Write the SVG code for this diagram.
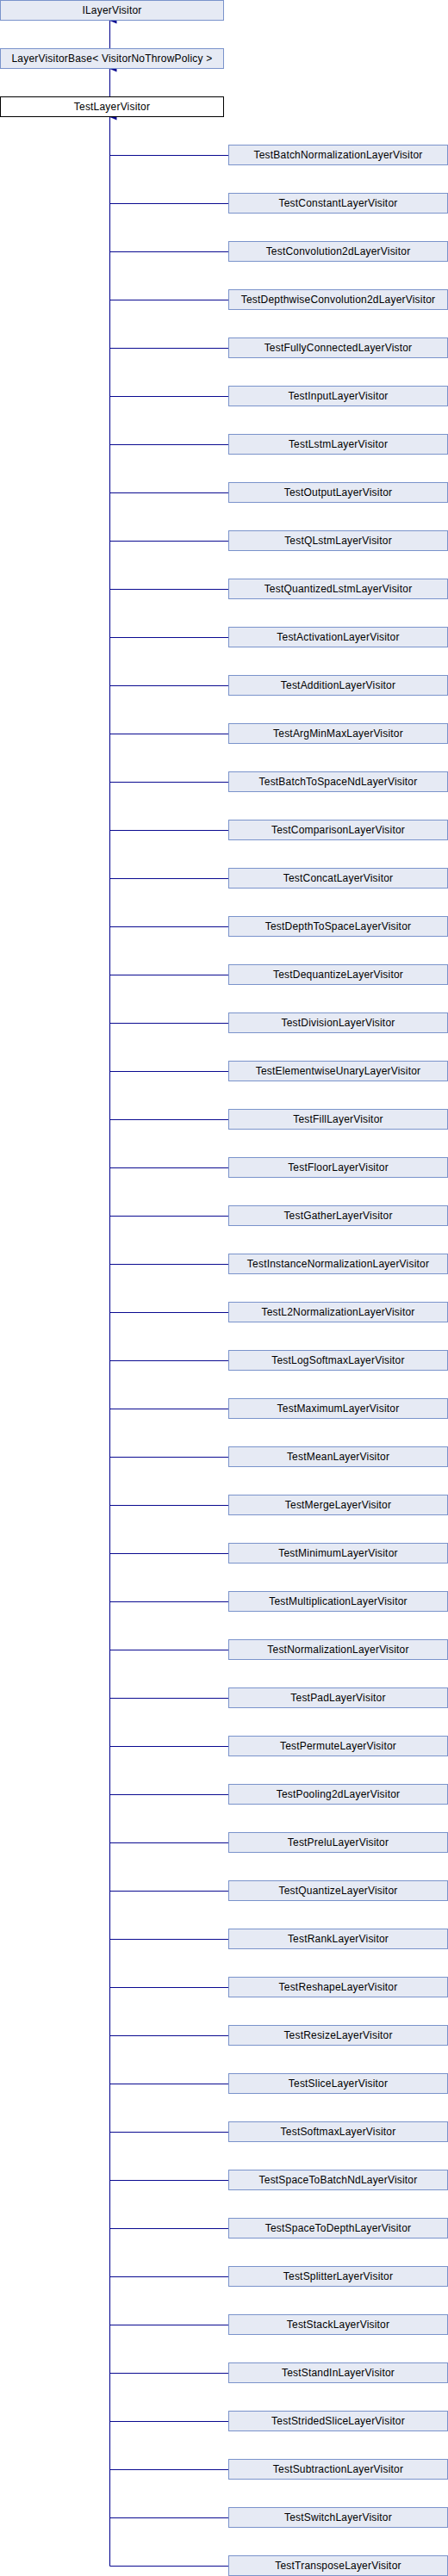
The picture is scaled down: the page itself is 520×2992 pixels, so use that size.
<svg xmlns="http://www.w3.org/2000/svg" width="520" height="2992" viewBox="0 0 520 2992">
<style>
.n rect{fill:#E6EAF4;stroke:#7A93CB;stroke-width:1}
.cur rect{fill:#FFFFFF;stroke:#000000;stroke-width:1}
text{font-family:"Liberation Sans",Arial,sans-serif;font-size:12px;fill:#000;text-anchor:middle;letter-spacing:0.2px}
.e{stroke:#0A0A90;stroke-width:1.1;fill:none}
</style>
<defs>
<marker id="ah" markerWidth="7" markerHeight="8" refX="3.5" refY="0" orient="auto-start-reverse" markerUnits="userSpaceOnUse" viewBox="0 0 7 8"><path d="M0,8 L3.5,0 L7,8 Z" fill="#0A0A90"/></marker>
</defs>
<rect width="520" height="2992" fill="#FFFFFF"/>
<g id="connectors">
<path class="e" d="M127.5,56.5 V24" marker-end="url(#ah)"/>
<path class="e" d="M127.5,112.5 V80" marker-end="url(#ah)"/>
<path class="e" d="M127.5,2980.5 V136" marker-end="url(#ah)"/>
<path class="e" d="M127.5,180.5H265M127.5,236.5H265M127.5,292.5H265M127.5,348.5H265M127.5,404.5H265M127.5,460.5H265M127.5,516.5H265M127.5,572.5H265M127.5,628.5H265M127.5,684.5H265M127.5,740.5H265M127.5,796.5H265M127.5,852.5H265M127.5,908.5H265M127.5,964.5H265M127.5,1020.5H265M127.5,1076.5H265M127.5,1132.5H265M127.5,1188.5H265M127.5,1244.5H265M127.5,1300.5H265M127.5,1356.5H265M127.5,1412.5H265M127.5,1468.5H265M127.5,1524.5H265M127.5,1580.5H265M127.5,1636.5H265M127.5,1692.5H265M127.5,1748.5H265M127.5,1804.5H265M127.5,1860.5H265M127.5,1916.5H265M127.5,1972.5H265M127.5,2028.5H265M127.5,2084.5H265M127.5,2140.5H265M127.5,2196.5H265M127.5,2252.5H265M127.5,2308.5H265M127.5,2364.5H265M127.5,2420.5H265M127.5,2476.5H265M127.5,2532.5H265M127.5,2588.5H265M127.5,2644.5H265M127.5,2700.5H265M127.5,2756.5H265M127.5,2812.5H265M127.5,2868.5H265M127.5,2924.5H265M127.5,2980.5H265"/>
</g>
<g id="ILayerVisitor" class="n"><rect x="0.5" y="0.5" width="259" height="23"/><text x="130" y="16">ILayerVisitor</text></g>
<g id="LayerVisitorBase" class="n"><rect x="0.5" y="56.5" width="259" height="23"/><text x="130" y="72">LayerVisitorBase&lt; VisitorNoThrowPolicy &gt;</text></g>
<g id="TestLayerVisitor" class="cur"><rect x="0.5" y="112.5" width="259" height="23"/><text x="130" y="128">TestLayerVisitor</text></g>
<g id="c1" class="n"><rect x="265.5" y="168.5" width="254" height="23"/><text x="392.5" y="184">TestBatchNormalizationLayerVisitor</text></g>
<g id="c2" class="n"><rect x="265.5" y="224.5" width="254" height="23"/><text x="392.5" y="240">TestConstantLayerVisitor</text></g>
<g id="c3" class="n"><rect x="265.5" y="280.5" width="254" height="23"/><text x="392.5" y="296">TestConvolution2dLayerVisitor</text></g>
<g id="c4" class="n"><rect x="265.5" y="336.5" width="254" height="23"/><text x="392.5" y="352">TestDepthwiseConvolution2dLayerVisitor</text></g>
<g id="c5" class="n"><rect x="265.5" y="392.5" width="254" height="23"/><text x="392.5" y="408">TestFullyConnectedLayerVistor</text></g>
<g id="c6" class="n"><rect x="265.5" y="448.5" width="254" height="23"/><text x="392.5" y="464">TestInputLayerVisitor</text></g>
<g id="c7" class="n"><rect x="265.5" y="504.5" width="254" height="23"/><text x="392.5" y="520">TestLstmLayerVisitor</text></g>
<g id="c8" class="n"><rect x="265.5" y="560.5" width="254" height="23"/><text x="392.5" y="576">TestOutputLayerVisitor</text></g>
<g id="c9" class="n"><rect x="265.5" y="616.5" width="254" height="23"/><text x="392.5" y="632">TestQLstmLayerVisitor</text></g>
<g id="c10" class="n"><rect x="265.5" y="672.5" width="254" height="23"/><text x="392.5" y="688">TestQuantizedLstmLayerVisitor</text></g>
<g id="c11" class="n"><rect x="265.5" y="728.5" width="254" height="23"/><text x="392.5" y="744">TestActivationLayerVisitor</text></g>
<g id="c12" class="n"><rect x="265.5" y="784.5" width="254" height="23"/><text x="392.5" y="800">TestAdditionLayerVisitor</text></g>
<g id="c13" class="n"><rect x="265.5" y="840.5" width="254" height="23"/><text x="392.5" y="856">TestArgMinMaxLayerVisitor</text></g>
<g id="c14" class="n"><rect x="265.5" y="896.5" width="254" height="23"/><text x="392.5" y="912">TestBatchToSpaceNdLayerVisitor</text></g>
<g id="c15" class="n"><rect x="265.5" y="952.5" width="254" height="23"/><text x="392.5" y="968">TestComparisonLayerVisitor</text></g>
<g id="c16" class="n"><rect x="265.5" y="1008.5" width="254" height="23"/><text x="392.5" y="1024">TestConcatLayerVisitor</text></g>
<g id="c17" class="n"><rect x="265.5" y="1064.5" width="254" height="23"/><text x="392.5" y="1080">TestDepthToSpaceLayerVisitor</text></g>
<g id="c18" class="n"><rect x="265.5" y="1120.5" width="254" height="23"/><text x="392.5" y="1136">TestDequantizeLayerVisitor</text></g>
<g id="c19" class="n"><rect x="265.5" y="1176.5" width="254" height="23"/><text x="392.5" y="1192">TestDivisionLayerVisitor</text></g>
<g id="c20" class="n"><rect x="265.5" y="1232.5" width="254" height="23"/><text x="392.5" y="1248">TestElementwiseUnaryLayerVisitor</text></g>
<g id="c21" class="n"><rect x="265.5" y="1288.5" width="254" height="23"/><text x="392.5" y="1304">TestFillLayerVisitor</text></g>
<g id="c22" class="n"><rect x="265.5" y="1344.5" width="254" height="23"/><text x="392.5" y="1360">TestFloorLayerVisitor</text></g>
<g id="c23" class="n"><rect x="265.5" y="1400.5" width="254" height="23"/><text x="392.5" y="1416">TestGatherLayerVisitor</text></g>
<g id="c24" class="n"><rect x="265.5" y="1456.5" width="254" height="23"/><text x="392.5" y="1472">TestInstanceNormalizationLayerVisitor</text></g>
<g id="c25" class="n"><rect x="265.5" y="1512.5" width="254" height="23"/><text x="392.5" y="1528">TestL2NormalizationLayerVisitor</text></g>
<g id="c26" class="n"><rect x="265.5" y="1568.5" width="254" height="23"/><text x="392.5" y="1584">TestLogSoftmaxLayerVisitor</text></g>
<g id="c27" class="n"><rect x="265.5" y="1624.5" width="254" height="23"/><text x="392.5" y="1640">TestMaximumLayerVisitor</text></g>
<g id="c28" class="n"><rect x="265.5" y="1680.5" width="254" height="23"/><text x="392.5" y="1696">TestMeanLayerVisitor</text></g>
<g id="c29" class="n"><rect x="265.5" y="1736.5" width="254" height="23"/><text x="392.5" y="1752">TestMergeLayerVisitor</text></g>
<g id="c30" class="n"><rect x="265.5" y="1792.5" width="254" height="23"/><text x="392.5" y="1808">TestMinimumLayerVisitor</text></g>
<g id="c31" class="n"><rect x="265.5" y="1848.5" width="254" height="23"/><text x="392.5" y="1864">TestMultiplicationLayerVisitor</text></g>
<g id="c32" class="n"><rect x="265.5" y="1904.5" width="254" height="23"/><text x="392.5" y="1920">TestNormalizationLayerVisitor</text></g>
<g id="c33" class="n"><rect x="265.5" y="1960.5" width="254" height="23"/><text x="392.5" y="1976">TestPadLayerVisitor</text></g>
<g id="c34" class="n"><rect x="265.5" y="2016.5" width="254" height="23"/><text x="392.5" y="2032">TestPermuteLayerVisitor</text></g>
<g id="c35" class="n"><rect x="265.5" y="2072.5" width="254" height="23"/><text x="392.5" y="2088">TestPooling2dLayerVisitor</text></g>
<g id="c36" class="n"><rect x="265.5" y="2128.5" width="254" height="23"/><text x="392.5" y="2144">TestPreluLayerVisitor</text></g>
<g id="c37" class="n"><rect x="265.5" y="2184.5" width="254" height="23"/><text x="392.5" y="2200">TestQuantizeLayerVisitor</text></g>
<g id="c38" class="n"><rect x="265.5" y="2240.5" width="254" height="23"/><text x="392.5" y="2256">TestRankLayerVisitor</text></g>
<g id="c39" class="n"><rect x="265.5" y="2296.5" width="254" height="23"/><text x="392.5" y="2312">TestReshapeLayerVisitor</text></g>
<g id="c40" class="n"><rect x="265.5" y="2352.5" width="254" height="23"/><text x="392.5" y="2368">TestResizeLayerVisitor</text></g>
<g id="c41" class="n"><rect x="265.5" y="2408.5" width="254" height="23"/><text x="392.5" y="2424">TestSliceLayerVisitor</text></g>
<g id="c42" class="n"><rect x="265.5" y="2464.5" width="254" height="23"/><text x="392.5" y="2480">TestSoftmaxLayerVisitor</text></g>
<g id="c43" class="n"><rect x="265.5" y="2520.5" width="254" height="23"/><text x="392.5" y="2536">TestSpaceToBatchNdLayerVisitor</text></g>
<g id="c44" class="n"><rect x="265.5" y="2576.5" width="254" height="23"/><text x="392.5" y="2592">TestSpaceToDepthLayerVisitor</text></g>
<g id="c45" class="n"><rect x="265.5" y="2632.5" width="254" height="23"/><text x="392.5" y="2648">TestSplitterLayerVisitor</text></g>
<g id="c46" class="n"><rect x="265.5" y="2688.5" width="254" height="23"/><text x="392.5" y="2704">TestStackLayerVisitor</text></g>
<g id="c47" class="n"><rect x="265.5" y="2744.5" width="254" height="23"/><text x="392.5" y="2760">TestStandInLayerVisitor</text></g>
<g id="c48" class="n"><rect x="265.5" y="2800.5" width="254" height="23"/><text x="392.5" y="2816">TestStridedSliceLayerVisitor</text></g>
<g id="c49" class="n"><rect x="265.5" y="2856.5" width="254" height="23"/><text x="392.5" y="2872">TestSubtractionLayerVisitor</text></g>
<g id="c50" class="n"><rect x="265.5" y="2912.5" width="254" height="23"/><text x="392.5" y="2928">TestSwitchLayerVisitor</text></g>
<g id="c51" class="n"><rect x="265.5" y="2968.5" width="254" height="23"/><text x="392.5" y="2984">TestTransposeLayerVisitor</text></g>
</svg>
